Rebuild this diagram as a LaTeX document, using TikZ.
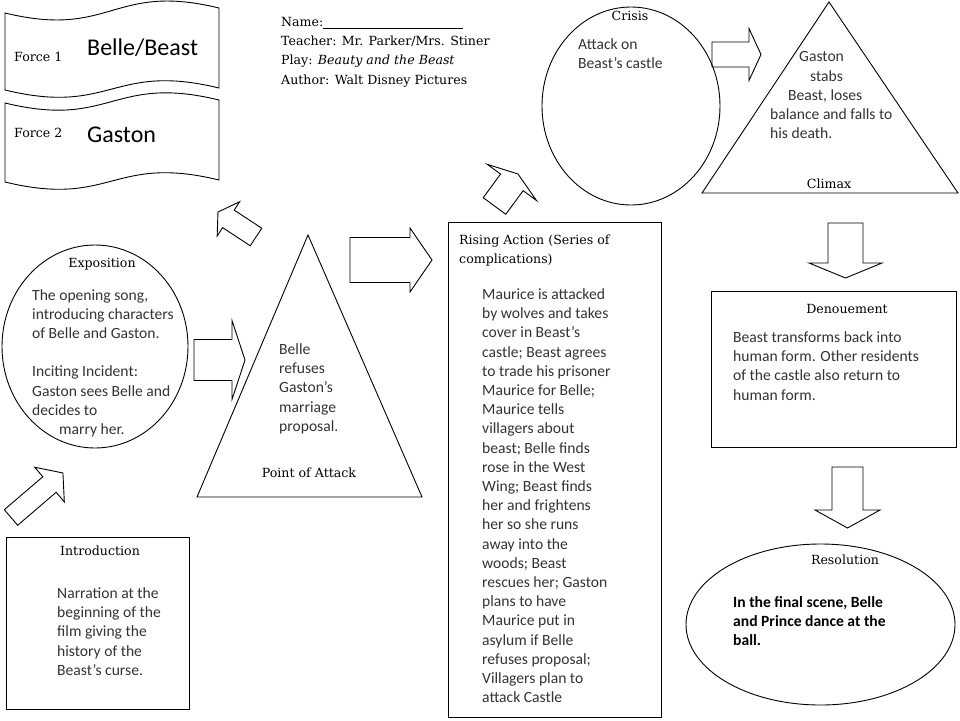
\documentclass[tikz,border=0pt]{standalone}
\usepackage{fontspec}
\setmainfont{Carlito}
\newfontfamily\headfont{DejaVu Serif}
% block arrow: tail x, tail y, angle, length, shaft width, head width, head length
\newcommand\blockarrow[7]{%
  \draw[outline,shift={(#1,#2)},rotate=#3] (0,-#5/2) -- ({#4-#7},-#5/2) -- ({#4-#7},-#6/2) -- (#4,0)
    -- ({#4-#7},#6/2) -- ({#4-#7},#5/2) -- (0,#5/2) -- cycle;}
% wavy banner: top-left y, top-right y, bottom-left y, bottom-right y
\newcommand\banner[4]{%
  \draw[outline] (5,#1) .. controls (112,#1+26) and (112,#2-26) .. (219,#2) -- (219,#4)
    .. controls (112,#4-26) and (112,#3+26) .. (5,#3) -- cycle;}

\begin{document}
\begin{tikzpicture}[x=1pt,y=-1pt,
    outline/.style={draw,line width=0.9pt},
    headtext/.style={font=\headfont\fontsize{12.6}{19.3}\selectfont,inner sep=0pt},
    bodytext/.style={font=\fontsize{15.6}{19.2}\selectfont,align=left,anchor=north west,inner sep=0pt,text=black!80}]
    \useasboundingbox (0,0) rectangle (960,720);

    % forces
    \banner{13}{8}{90}{88}
    \banner{103}{100}{182}{180}
    \node[headtext,anchor=west] (force1) at (14,57) {Force 1};
    \node[anchor=west,inner sep=0pt,font=\fontsize{24}{28}\selectfont] (side1) at (87,48) {Belle/Beast};
    \node[headtext,anchor=west] (force2) at (14,133) {Force 2};
    \node[anchor=west,inner sep=0pt,font=\fontsize{24}{28}\selectfont] (side2) at (87,135) {Gaston};

    % header
    \node[headtext,anchor=north west,align=left] (info) at (281,17) {Name:\rule[-2pt]{140pt}{0.6pt}\\
        Teacher: Mr. Parker/Mrs. Stiner\\ Play: \textit{Beauty and the Beast}\\ Author: Walt Disney Pictures};

    % crisis
    \draw[outline] (631,106) ellipse [x radius=89,y radius=99];
    \node[headtext] (crisis) at (630,16) {Crisis};
    \node[bodytext] (crisistext) at (578,38) {Attack on\\Beast’s castle};

    % climax
    \draw[outline] (829,2) -- (958,193) -- (702,193) -- cycle;
    \node[headtext] (climax) at (829,184) {Climax};
    \node[bodytext] (climaxtext) at (770,51.5) {\hspace*{29pt}Gaston\\\hspace*{40pt}stabs\\\hspace*{18pt}Beast, loses\\
        balance and falls to\\his death.};

    % exposition
    \draw[outline] (95,346.5) ellipse [x radius=93,y radius=101.5];
    \node[headtext] (exposition) at (102,264) {Exposition};
    \node[bodytext] (expositiontext) at (32,289) {The opening song,\\introducing characters\\of Belle and Gaston.\\[19.2pt]
        Inciting Incident:\\Gaston sees Belle and\\decides to\\\hspace*{27pt}marry her.};

    % point of attack
    \draw[outline] (308,235) -- (422,497) -- (197,497) -- cycle;
    \node[headtext] (attack) at (309,473) {Point of Attack};
    \node[bodytext] (attacktext) at (279,343.5) {Belle\\refuses\\Gaston’s\\marriage\\proposal.};

    % rising action
    \draw[outline] (448,222) rectangle (661,717);
    \node[headtext,anchor=north west,align=left] (rising) at (459,235) {Rising Action (Series of\\[-1pt]complications)};
    \node[bodytext] (risingtext) at (482,288.5) {Maurice is attacked\\by wolves and takes\\cover in Beast’s\\
        castle; Beast agrees\\to trade his prisoner\\Maurice for Belle;\\Maurice tells\\villagers about\\
        beast; Belle finds\\rose in the West\\Wing; Beast finds\\her and frightens\\her so she runs\\
        away into the\\woods;  Beast\\rescues her; Gaston\\plans to have\\Maurice put in\\asylum if Belle\\
        refuses proposal;\\Villagers plan to\\attack Castle};

    % denouement
    \draw[outline] (711,291) rectangle (956,447);
    \node[headtext] (denouement) at (847,309) {Denouement};
    \node[bodytext] (denouementtext) at (733,331.5) {Beast transforms back into\\human form. Other residents\\
        of the castle also return to\\human form.};

    % introduction
    \draw[outline] (6,537) rectangle (189,709);
    \node[headtext] (intro) at (100,551) {Introduction};
    \node[bodytext] (introtext) at (57,587.5) {Narration at the\\beginning of the\\film giving the\\history of the\\Beast’s curse.};

    % resolution
    \draw[outline] (820.5,624.5) ellipse [x radius=134.5,y radius=80.5];
    \node[headtext] (resolution) at (845,560) {Resolution};
    \node[bodytext,text=black,font=\bfseries\fontsize{15.6}{19.2}\selectfont] (resolutiontext) at (733,596)
        {In the final scene, Belle\\and Prince dance at the\\ball.};

    % block arrows
    \blockarrow{194}{360}{0}{51}{41}{79}{13}
    \blockarrow{350}{260}{0}{82}{45}{64}{22}
    \blockarrow{494.5}{206}{53.7}{39.7}{28}{61}{10.4}
    \blockarrow{712}{54.5}{0}{49}{25}{52}{12}
    \blockarrow{845.5}{223}{-90}{55}{35}{73}{15}
    \blockarrow{847.5}{467}{-90}{61}{31}{65}{18}
    \blockarrow{11}{517.5}{40.6}{68.4}{20.5}{45.6}{17.7}
    \blockarrow{256}{237}{146.7}{45.5}{21}{41}{12.5}
\end{tikzpicture}
\end{document}
